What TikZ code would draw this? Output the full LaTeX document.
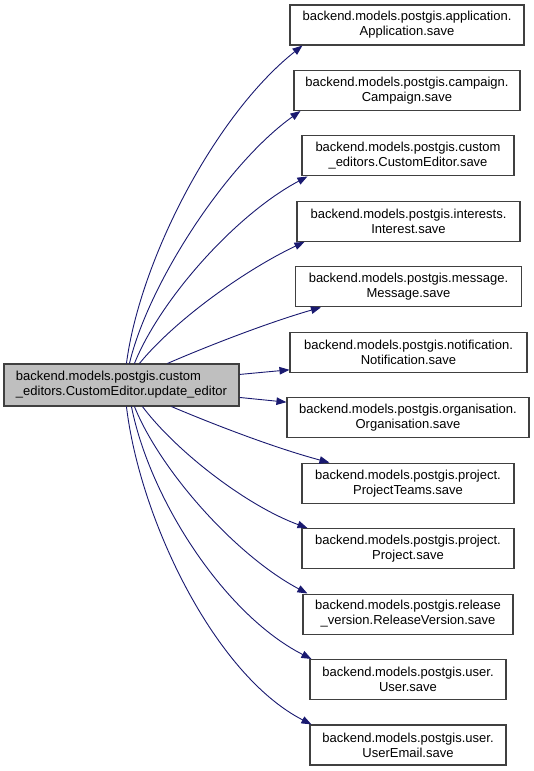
\documentclass[tikz,border=0pt]{standalone}
\usepackage{fontspec}
\setmainfont{Liberation Sans}
\usetikzlibrary{arrows.meta,calc}
\definecolor{edgeblue}{RGB}{25,25,112}
\definecolor{boxline}{RGB}{64,64,64}
\definecolor{mainfill}{RGB}{191,191,191}
\tikzset{
  fn/.style={draw=boxline, line width=1.1pt, rectangle, minimum height=40pt, inner xsep=2pt, inner ysep=0pt, align=center, font=\fontsize{13}{15}\selectfont, anchor=center},
  mainfn/.style={fn, fill=mainfill, align=left, minimum height=42pt},
  call/.style={draw=edgeblue, line width=0.9pt, -{Triangle[length=10pt,width=7.5pt]}, fill=none}
}
\begin{document}
\begin{tikzpicture}[x=1pt,y=-1pt]
\useasboundingbox (0,0) rectangle (533,771);
\node[mainfn, minimum width=235pt] (L) at (121.5,385) {backend.models.postgis.custom\\\_editors.CustomEditor.update\_editor};
\node[fn, minimum width=234pt] (r1) at (407,25) {backend.models.postgis.application.\\Application.save};
\node[fn, minimum width=226pt] (r2) at (407,90.45) {backend.models.postgis.campaign.\\Campaign.save};
\node[fn, minimum width=212pt] (r3) at (408,155.9) {backend.models.postgis.custom\\\_editors.CustomEditor.save};
\node[fn, minimum width=223pt] (r4) at (408.5,221.35) {backend.models.postgis.interests.\\Interest.save};
\node[fn, minimum width=226pt] (r5) at (408.5,286.8) {backend.models.postgis.message.\\Message.save};
\node[fn, minimum width=237pt] (r6) at (408.5,352.25) {backend.models.postgis.notification.\\Notification.save};
\node[fn, minimum width=242pt] (r7) at (408,417.7) {backend.models.postgis.organisation.\\Organisation.save};
\node[fn, minimum width=212pt] (r8) at (408,483.15) {backend.models.postgis.project.\\ProjectTeams.save};
\node[fn, minimum width=212pt] (r9) at (408,548.6) {backend.models.postgis.project.\\Project.save};
\node[fn, minimum width=210pt] (r10) at (408,614.05) {backend.models.postgis.release\\\_version.ReleaseVersion.save};
\node[fn, minimum width=196pt] (r11) at (408,679.5) {backend.models.postgis.user.\\User.save};
\node[fn, minimum width=196pt] (r12) at (408,744.95) {backend.models.postgis.user.\\UserEmail.save};

\draw[call] ($(L.north west)+(123,0)$) .. controls (140,260) and (215,115) .. ($(r1.south west)+(13,0)$);
\draw[call] ($(L.north west)+(126,0)$) .. controls (148,285) and (225,165) .. ($(r2.south west)+(7,0)$);
\draw[call] ($(L.north west)+(131,0)$) .. controls (160,300) and (235,215) .. ($(r3.south west)+(6,0)$);
\draw[call] ($(L.north west)+(136,0)$) .. controls (175,320) and (245,270) .. ($(r4.south west)+(8,0)$);
\draw[call] ($(L.north west)+(164,0)$) .. controls (210,345) and (270,322) .. ($(r5.south west)+(26,0)$);
\draw[call] ($(L.north east)+(0,11)$) -- ($(r6.south west)+(0,-3)$);
\draw[call] ($(L.north east)+(0,34)$) -- ($(r7.north west)+(0,5)$);
\draw[call] ($(L.south west)+(168,0)$) .. controls (215,425) and (275,448) .. ($(r8.north west)+(28,0)$);
\draw[call] ($(L.south west)+(139,0)$) .. controls (175,450) and (245,505) .. ($(r9.north west)+(6,0)$);
\draw[call] ($(L.south west)+(131,0)$) .. controls (160,470) and (235,555) .. ($(r10.north west)+(5,0)$);
\draw[call] ($(L.south west)+(128,0)$) .. controls (150,500) and (225,615) .. ($(r11.north west)+(2,0)$);
\draw[call] ($(L.south west)+(123,0)$) .. controls (140,520) and (215,675) .. ($(r12.north west)+(2,0)$);
\end{tikzpicture}
\end{document}
